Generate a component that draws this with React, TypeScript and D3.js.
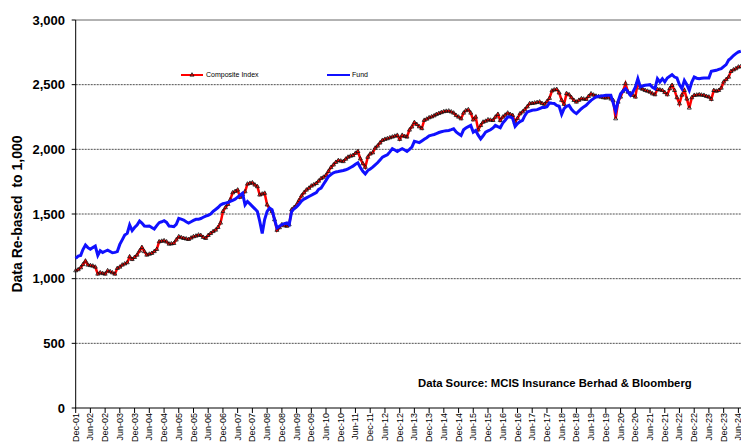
import React from "react";
import * as d3 from "d3";

// monthly values, first point Dec-01
const composite = [
  1062, 1070, 1085, 1110, 1137, 1106, 1102, 1098, 1090, 1036, 1046, 1040,
  1036, 1062, 1055, 1046, 1036, 1080, 1090, 1106, 1115, 1124, 1170, 1149,
  1165, 1183, 1215, 1242, 1210, 1183, 1190, 1196, 1210, 1227, 1286, 1290,
  1294, 1285, 1268, 1270, 1273, 1300, 1325, 1318, 1312, 1308, 1304, 1315,
  1325, 1330, 1338, 1335, 1320, 1312, 1335, 1350, 1365, 1376, 1397, 1431,
  1520, 1550, 1575, 1610, 1665, 1675, 1686, 1630, 1650, 1673, 1732, 1738,
  1742, 1725, 1712, 1648, 1655, 1661, 1571, 1540, 1520, 1457, 1375, 1395,
  1418, 1410, 1406, 1418, 1533, 1550, 1571, 1605, 1640, 1665, 1686, 1700,
  1717, 1727, 1737, 1755, 1775, 1785, 1800, 1830, 1860, 1880, 1900, 1914,
  1910, 1906, 1925, 1940, 1948, 1953, 1970, 1984, 1927, 1890, 1862, 1940,
  1965, 1974, 2010, 2026, 2050, 2070, 2078, 2083, 2090, 2096, 2102, 2109,
  2078, 2109, 2100, 2096, 2150, 2174, 2208, 2193, 2175, 2161, 2225, 2234,
  2245, 2252, 2260, 2270, 2278, 2285, 2292, 2295, 2297, 2290, 2281, 2262,
  2250, 2237, 2281, 2300, 2307, 2281, 2229, 2250, 2151, 2185, 2211, 2218,
  2229, 2226, 2224, 2250, 2271, 2224, 2250, 2265, 2281, 2270, 2263, 2211,
  2240, 2276, 2290, 2307, 2330, 2354, 2356, 2359, 2363, 2367, 2355, 2349,
  2370, 2395, 2453, 2460, 2464, 2437, 2380, 2349, 2432, 2423, 2400, 2379,
  2366, 2380, 2392, 2389, 2387, 2410, 2430, 2420, 2412, 2408, 2405, 2400,
  2397, 2405, 2390, 2379, 2237, 2366, 2405, 2450, 2508, 2443, 2430, 2418,
  2405, 2521, 2474, 2465, 2456, 2450, 2443, 2430, 2423, 2464, 2460, 2456,
  2440, 2423, 2470, 2495, 2456, 2400, 2353, 2420, 2456, 2390, 2320, 2400,
  2418, 2420, 2423, 2420, 2418, 2410, 2405, 2387, 2456, 2450, 2456, 2474,
  2521, 2540, 2559, 2603, 2615, 2624, 2637, 2640,
];

const fund = [
  1157, 1175, 1180, 1225, 1260, 1240, 1227, 1240, 1252, 1180, 1216, 1203,
  1212, 1221, 1210, 1200, 1203, 1210, 1265, 1300, 1338, 1350, 1415, 1371,
  1395, 1415, 1446, 1430, 1407, 1405, 1407, 1395, 1384, 1410, 1433, 1440,
  1448, 1435, 1407, 1405, 1402, 1420, 1466, 1460, 1453, 1440, 1430, 1440,
  1450, 1459, 1459, 1465, 1475, 1484, 1490, 1500, 1520, 1535, 1550, 1570,
  1579, 1584, 1589, 1597, 1605, 1615, 1630, 1645, 1661, 1571, 1597, 1578,
  1559, 1540, 1520, 1444, 1350, 1457, 1520, 1546, 1533, 1457, 1393, 1405,
  1418, 1425, 1431, 1418, 1520, 1540, 1555, 1575, 1600, 1615, 1625, 1635,
  1645, 1655, 1665, 1690, 1700, 1730, 1760, 1790, 1805, 1818, 1825, 1828,
  1832, 1836, 1842, 1849, 1860, 1870, 1885, 1896, 1860, 1830, 1810, 1836,
  1848, 1862, 1880, 1896, 1918, 1940, 1950, 1958, 1980, 2005, 1995, 1984,
  1995, 2005, 1995, 1984, 2000, 2018, 2062, 2058, 2052, 2065, 2078, 2090,
  2104, 2110, 2115, 2122, 2130, 2136, 2141, 2144, 2146, 2152, 2159, 2135,
  2120, 2107, 2151, 2165, 2175, 2185, 2133, 2146, 2110, 2081, 2105, 2133,
  2142, 2151, 2165, 2185, 2175, 2167, 2203, 2225, 2250, 2250, 2240, 2177,
  2200, 2215, 2224, 2260, 2289, 2295, 2302, 2305, 2307, 2315, 2323, 2323,
  2330, 2359, 2356, 2354, 2340, 2333, 2271, 2315, 2333, 2340, 2310, 2289,
  2276, 2295, 2314, 2328, 2340, 2360, 2379, 2392, 2405, 2410, 2412, 2415,
  2418, 2418, 2418, 2360, 2294, 2371, 2430, 2450, 2469, 2445, 2418, 2443,
  2480, 2546, 2482, 2490, 2495, 2498, 2500, 2480, 2469, 2546, 2521, 2546,
  2521, 2552, 2565, 2577, 2559, 2552, 2500, 2469, 2533, 2500, 2456, 2520,
  2559, 2550, 2546, 2550, 2552, 2552, 2552, 2603, 2607, 2611, 2618, 2624,
  2640, 2655, 2690, 2705, 2725, 2740, 2753, 2758,
];

const yTicks = [0, 500, 1000, 1500, 2000, 2500, 3000];
const seriesNames = ["Composite Index", "Fund"];
const sourceText = "Data Source: MCIS Insurance Berhad & Bloomberg";
const yTitle = "Data Re-based  to 1,000";

export default function App() {
  const width = 741;
  const height = 443;
  const left = 75.7;
  const top = 20;
  const bottom = 408;

  const start = new Date(2001, 11, 1);
  const end = new Date(2024, 5, 1);
  const dates = composite.map((_, i) => d3.timeMonth.offset(start, i));
  const xTicks = d3.range(0, 46).map((i) => d3.timeMonth.offset(start, i * 6));

  const x = d3.scaleTime().domain([start, end]).range([left, 738.4]);
  const y = d3.scaleLinear().domain([0, 3000]).range([bottom, top]);
  const fmtX = d3.timeFormat("%b-%y");
  const fmtY = d3.format(",");

  const line = d3
    .line<number>()
    .x((_, i) => x(dates[i]))
    .y((d) => y(d));

  const tri = d3.symbol().type(d3.symbolTriangle).size(7)();

  return (
    <svg
      width={width}
      height={height}
      style={{ position: "absolute", left: 0, top: 0, background: "#fff" }}
      fontFamily="Arial, 'Liberation Sans', sans-serif"
    >
      {yTicks
        .filter((t) => t > 0 && t < 3000)
        .map((t) => (
          <line
            key={t}
            x1={left}
            x2={width}
            y1={y(t)}
            y2={y(t)}
            stroke="#222"
            strokeWidth={0.8}
            strokeDasharray="2 1"
          />
        ))}
      <line x1={left} x2={width} y1={top} y2={top} stroke="#666" strokeWidth={1} />
      <line x1={left} x2={left} y1={top} y2={bottom} stroke="#000" strokeWidth={1} />
      <line x1={left} x2={width} y1={bottom} y2={bottom} stroke="#000" strokeWidth={1} />

      {yTicks.map((t) => (
        <g key={t}>
          <line x1={left - 4} x2={left} y1={y(t)} y2={y(t)} stroke="#000" />
          <text
            x={65}
            y={y(t)}
            dy="0.35em"
            textAnchor="end"
            fontSize={13}
            fontWeight="bold"
            fill="#000"
          >
            {fmtY(t)}
          </text>
        </g>
      ))}

      {xTicks.map((d, i) => (
        <g key={i}>
          <line x1={x(d)} x2={x(d)} y1={bottom} y2={bottom + 5} stroke="#000" />
          <text
            transform={`translate(${x(d) + 3},${bottom + 5}) rotate(-90)`}
            textAnchor="end"
            fontSize={9}
            fill="#000"
          >
            {fmtX(d)}
          </text>
        </g>
      ))}

      <text
        transform="translate(22,214) rotate(-90)"
        textAnchor="middle"
        fontSize={14}
        fontWeight="bold"
        style={{ whiteSpace: "pre" }}
      >
        {yTitle}
      </text>

      <path d={line(composite) || ""} fill="none" stroke="#ff0000" strokeWidth={2.5} />
      {composite.map((v, i) => (
        <path
          key={i}
          d={tri}
          transform={`translate(${x(dates[i])},${y(v)})`}
          fill="none"
          stroke="#111"
          strokeWidth={0.8}
        />
      ))}
      <path d={line(fund) || ""} fill="none" stroke="#1010ff" strokeWidth={3} />

      <g>
        <line x1={181} x2={203} y1={75} y2={75} stroke="#ff0000" strokeWidth={2} />
        <path d={tri} transform="translate(192,75)" fill="none" stroke="#111" strokeWidth={0.8} />
        <text x={206} y={75} dy="0.35em" fontSize={7} fill="#000">
          {seriesNames[0]}
        </text>
        <line x1={327} x2={350} y1={75} y2={75} stroke="#1010ff" strokeWidth={2} />
        <text x={352} y={75} dy="0.35em" fontSize={7} fill="#000">
          {seriesNames[1]}
        </text>
      </g>

      <text x={418} y={387} fontSize={11.3} fontWeight="bold" fill="#000">
        {sourceText}
      </text>
    </svg>
  );
}
